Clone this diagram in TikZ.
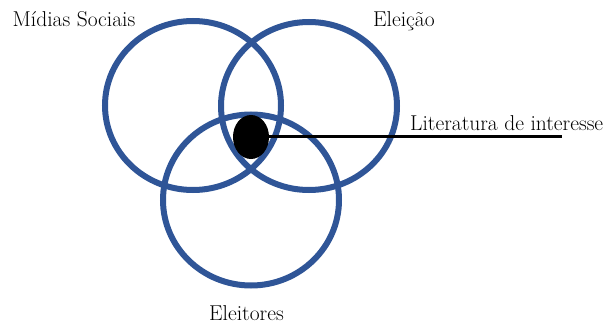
\documentclass[tikz,border=0pt]{standalone}
\usepackage{fontspec}
\usetikzlibrary{shapes.geometric}
\definecolor{vennblue}{RGB}{47,85,151}
\begin{document}
\begin{tikzpicture}[x=1pt,y=1pt,
  venn/.style={ellipse,draw=vennblue,line width=6pt,inner sep=0pt,minimum width=176pt},
  lbl/.style={anchor=base west,inner sep=0pt,font=\fontsize{21.5}{25}\selectfont}]
\useasboundingbox (0,0) rectangle (606,-324);
\node[venn,minimum height=169pt] (social) at (193,-105.5) {};
\node[venn,minimum height=168pt] (eleicao) at (309,-106) {};
\node[venn,minimum height=171pt] (eleitores) at (251,-200) {};
\node[ellipse,fill=black,inner sep=0pt,minimum width=36pt,minimum height=44pt] (blob) at (251,-137) {};
\coordinate (lineend) at (562,-136);
\draw[line width=3pt] (blob.east |- lineend) -- (lineend);
\node[lbl] (tsocial) at (12.5,-26.7) {Mídias Sociais};
\node[lbl] (televao) at (373,-26.7) {Eleição};
\node[lbl] (tlit) at (410,-130.7) {Literatura de interesse};
\node[lbl] (teleitores) at (209,-320) {Eleitores};
\end{tikzpicture}
\end{document}
